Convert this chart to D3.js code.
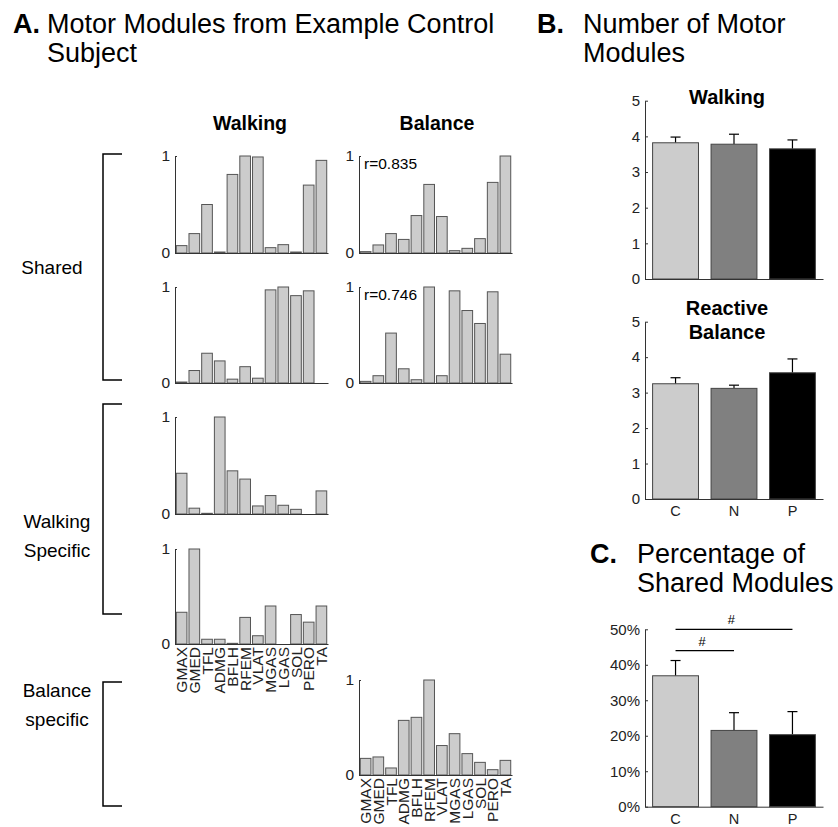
<!DOCTYPE html>
<html>
<head>
<meta charset="utf-8">
<script src="https://cdn.jsdelivr.net/npm/d3@7"></script>
<style>
  body { margin: 0; background: #fff; }
  svg text { font-family: "Liberation Sans", Arial, Helvetica, sans-serif; }
</style>
</head>
<body>
<svg id="fig" width="838" height="827"></svg>
<script>
// muscle names (x categories of every module)
const muscles = ["GMAX","GMED","TFL","ADMG","BFLH","RFEM","VLAT","MGAS","LGAS","SOL","PERO","TA"];

// module weights, example control subject
const walkShared1 = [0.076,0.20,0.50,0.01,0.81,1.00,0.99,0.055,0.086,0.01,0.70,0.955];
const balShared1  = [0.014,0.083,0.20,0.14,0.386,0.707,0.376,0.024,0.048,0.148,0.728,1.00];
const walkShared2 = [0.01,0.13,0.31,0.23,0.04,0.17,0.05,0.97,1.00,0.91,0.96,0];
const balShared2  = [0.017,0.076,0.52,0.148,0.034,1.00,0.076,0.96,0.755,0.62,0.95,0.30];
const walkSpec1   = [0.42,0.06,0.007,1.00,0.445,0.36,0.083,0.19,0.09,0.048,0,0.238];
const walkSpec2   = [0.334,1.00,0.05,0.05,0.007,0.28,0.087,0.40,0,0.31,0.23,0.40];
const balSpec1    = [0.175,0.19,0.074,0.575,0.607,1.00,0.31,0.435,0.225,0.133,0.056,0.154];
const corrLabels  = ["r=0.835","r=0.746"];

// group summaries
const groups = ["C","N","P"];
const groupColors = ["#cccccc","#808080","#000000"];
const walkCount = [3.82,3.78,3.65];
const walkCountErr = [0.16,0.28,0.25];
const balCount = [3.25,3.12,3.56];
const balCountErr = [0.17,0.09,0.39];
const yCountTicks = [0,1,2,3,4,5];
const sharedPct = [36.9,21.5,20.3];
const sharedPctErr = [4.3,5.0,6.5];
const yPctTicks = [0,10,20,30,40,50];
const sigPairs = [["C","N"],["C","P"]];

const svg = d3.select("#fig");

function txt(x, y, s, size, weight, anchor) {
  return svg.append("text").attr("x", x).attr("y", y).text(s)
    .attr("font-size", size).attr("font-weight", weight || "normal")
    .attr("text-anchor", anchor || "start").attr("fill", "#000");
}

// panel titles
txt(13, 33, "A.", 27, "bold");
txt(47, 33, "Motor Modules from Example Control", 27);
txt(47, 62, "Subject", 27);
txt(537, 33, "B.", 27, "bold");
txt(583, 33, "Number of Motor", 27);
txt(583, 62, "Modules", 27);
txt(590, 563, "C.", 27, "bold");
txt(637, 563, "Percentage of", 27);
txt(637, 592, "Shared Modules", 27);

txt(250, 130, "Walking", 19.5, "bold", "middle");
txt(437, 130, "Balance", 19.5, "bold", "middle");

// left group labels and brackets
txt(52, 274, "Shared", 19, "normal", "middle");
txt(57, 528, "Walking", 19, "normal", "middle");
txt(57, 557, "Specific", 19, "normal", "middle");
txt(57, 697, "Balance", 19, "normal", "middle");
txt(57, 726, "specific", 19, "normal", "middle");
[[154,380],[404,614],[682,806]].forEach(b => {
  svg.append("path").attr("d", `M122,${b[0]}H103V${b[1]}H122`)
    .attr("fill","none").attr("stroke","#000").attr("stroke-width",1.5);
});

// one module bar plot
function module(x0, x1, y0, y1, vals, rLabel, showNames) {
  const g = svg.append("g");
  const x = d3.scaleBand().domain(muscles).range([x0, x1]).paddingInner(0.16).paddingOuter(0.1);
  const y = d3.scaleLinear().domain([0,1]).range([y0, y1]);
  g.selectAll("rect").data(vals).enter().append("rect")
    .attr("x", (d,i) => x(muscles[i])).attr("width", x.bandwidth())
    .attr("y", d => y(d)).attr("height", d => y0 - y(d))
    .attr("fill", "#cccccc").attr("stroke", "#555").attr("stroke-width", 1);
  const ya = g.append("g").attr("transform", `translate(${x0},0)`)
    .call(d3.axisLeft(y).tickValues([0,1]).tickFormat(d3.format("d"))
      .tickSizeInner(-2).tickSizeOuter(0).tickPadding(5));
  ya.selectAll("text").attr("font-size", 15.5).attr("fill", "#222");
  ya.selectAll("line,path").attr("stroke", "#333");
  const xa = g.append("g").attr("transform", `translate(0,${y0})`)
    .call(d3.axisBottom(x).tickSize(0).tickSizeOuter(0));
  xa.select("path").attr("stroke", "#333");
  if (showNames) {
    xa.selectAll("text").attr("font-size", 15.5).attr("fill", "#222")
      .attr("transform", "rotate(-90)").attr("text-anchor", "end")
      .attr("x", -3).attr("y", 0).attr("dy", "0.36em");
  } else {
    xa.selectAll("text").remove();
  }
  if (rLabel) g.append("text").attr("x", x0 + 5).attr("y", y1 + 13).text(rLabel)
    .attr("font-size", 15.5).attr("fill", "#000");
}

module(175, 328, 253, 156, walkShared1, null, false);
module(359, 512, 253, 156, balShared1, corrLabels[0], false);
module(175, 328, 383, 287, walkShared2, null, false);
module(359, 512, 383, 287, balShared2, corrLabels[1], false);
module(175, 328, 514, 417, walkSpec1, null, false);
module(175, 328, 644, 549, walkSpec2, null, true);
module(359, 512, 775, 680, balSpec1, null, true);

// group bar plot with error bars
function groupPlot(y0, y1, domainMax, ticks, fmt, vals, errs, showX) {
  const g = svg.append("g");
  const x = d3.scaleBand().domain(groups).range([645, 823]).paddingInner(0.215).paddingOuter(0.13);
  const y = d3.scaleLinear().domain([0, domainMax]).range([y0, y1]);
  g.selectAll("line.err").data(vals).enter().append("line")
    .attr("x1", (d,i) => x(groups[i]) + x.bandwidth()/2)
    .attr("x2", (d,i) => x(groups[i]) + x.bandwidth()/2)
    .attr("y1", d => y(d)).attr("y2", (d,i) => y(d + errs[i]))
    .attr("stroke", "#000").attr("stroke-width", 1.2);
  g.selectAll("line.cap").data(vals).enter().append("line")
    .attr("x1", (d,i) => x(groups[i]) + x.bandwidth()/2 - 5)
    .attr("x2", (d,i) => x(groups[i]) + x.bandwidth()/2 + 5)
    .attr("y1", (d,i) => y(d + errs[i])).attr("y2", (d,i) => y(d + errs[i]))
    .attr("stroke", "#000").attr("stroke-width", 1.2);
  g.selectAll("rect").data(vals).enter().append("rect")
    .attr("x", (d,i) => x(groups[i])).attr("width", x.bandwidth())
    .attr("y", d => y(d)).attr("height", d => y0 - y(d))
    .attr("fill", (d,i) => groupColors[i]).attr("stroke", "#444").attr("stroke-width", 1);
  const ya = g.append("g").attr("transform", "translate(645,0)")
    .call(d3.axisLeft(y).tickValues(ticks).tickFormat(fmt)
      .tickSizeInner(-3).tickSizeOuter(0).tickPadding(5));
  ya.selectAll("text").attr("font-size", 15).attr("fill", "#222");
  ya.selectAll("line,path").attr("stroke", "#333");
  const xa = g.append("g").attr("transform", `translate(0,${y0})`)
    .call(d3.axisBottom(x).tickSize(0).tickSizeOuter(0).tickPadding(7));
  xa.select("path").attr("stroke", "#333");
  if (showX) xa.selectAll("text").attr("font-size", 14.5).attr("fill", "#222");
  else xa.selectAll("text").remove();
  return {g, x, y};
}

groupPlot(279, 100.7, 5, yCountTicks, d3.format("d"), walkCount, walkCountErr, false);
txt(727, 104, "Walking", 20, "bold", "middle");

groupPlot(499, 321.7, 5, yCountTicks, d3.format("d"), balCount, balCountErr, true);
txt(727, 315, "Reactive", 20, "bold", "middle");
txt(727, 339, "Balance", 20, "bold", "middle");

const pc = groupPlot(806.7, 629.3, 50, yPctTicks, d => d + "%", sharedPct, sharedPctErr, true);
const sigLevels = [44, 50];
sigPairs.forEach((p, i) => {
  const xa = pc.x(p[0]) + pc.x.bandwidth()/2, xb = pc.x(p[1]) + pc.x.bandwidth()/2;
  const yy = pc.y(sigLevels[i]);
  pc.g.append("line").attr("x1", xa).attr("x2", xb).attr("y1", yy).attr("y2", yy)
    .attr("stroke", "#000").attr("stroke-width", 1.2);
  pc.g.append("text").attr("x", (xa + xb)/2 - 3).attr("y", yy - 5).text("#")
    .attr("font-size", 13).attr("font-style", "italic").attr("text-anchor", "middle");
});
</script>
</body>
</html>
